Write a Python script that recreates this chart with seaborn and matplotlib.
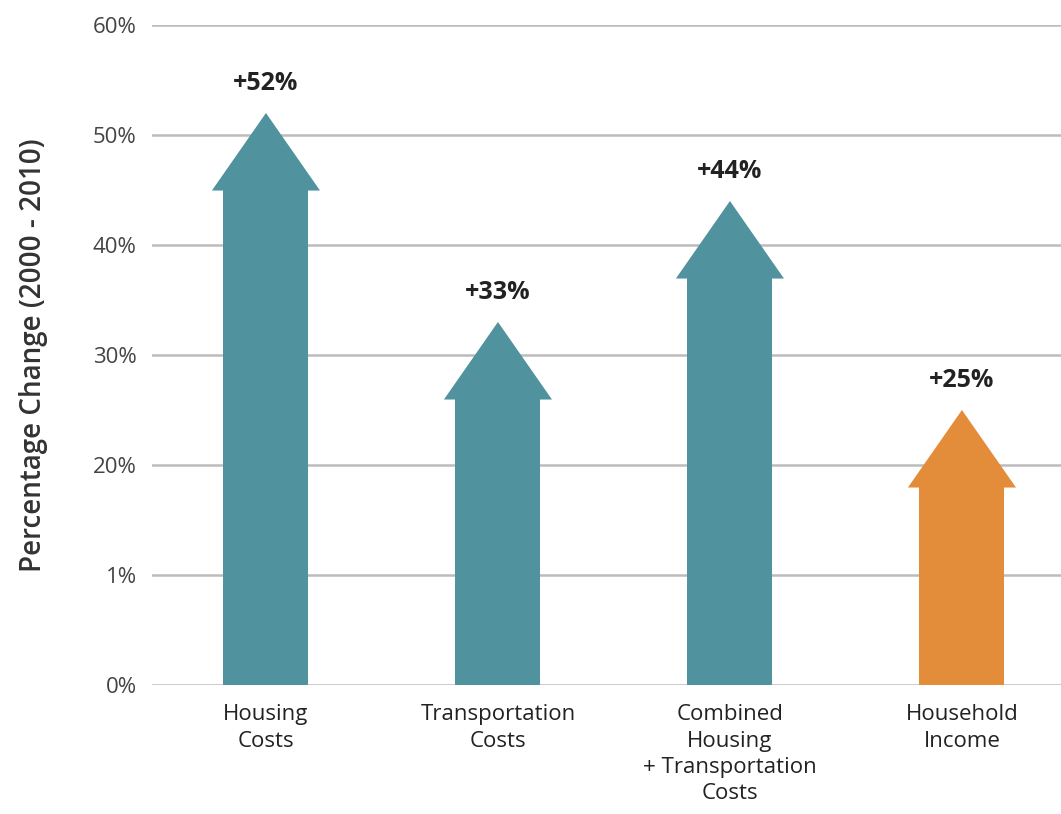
import matplotlib
matplotlib.use("Agg")
import matplotlib.pyplot as plt
from matplotlib.patches import Polygon
import seaborn as sns
import pandas as pd

categories = ["Housing\nCosts", "Transportation\nCosts",
              "Combined\nHousing\n+ Transportation\nCosts", "Household\nIncome"]
values = [52, 33, 44, 25]
value_labels = ["+52%", "+33%", "+44%", "+25%"]
colors = ["#50939f", "#50939f", "#50939f", "#e38c3a"]
tick_values = [0, 10, 20, 30, 40, 50, 60]
tick_labels = ["0%", "1%", "20%", "30%", "40%", "50%", "60%"]
y_label = "Percentage Change (2000 - 2010)"

sns.set_theme(style="white")
plt.rcParams["font.family"] = ["Open Sans", "DejaVu Sans"]

head_len = 7.0
shaft_w = 0.366
head_w = 0.466

df = pd.DataFrame({"category": categories,
                   "shaft": [v - head_len for v in values]})

fig = plt.figure(figsize=(10.61, 8.14), dpi=100)
ax = fig.add_axes([0.1433, 0.1585, 0.8567, 0.8108])

for t in tick_values:
    ax.axhline(t, color="#bcbcbc", lw=1.8, zorder=0)

sns.barplot(data=df, x="category", y="shaft", hue="category",
            palette=colors, width=shaft_w, legend=False, ax=ax,
            saturation=1, linewidth=0, edgecolor="none", zorder=2)

# arrow heads sit on top of each shaft, tip at the value
for i, (v, c, lab) in enumerate(zip(values, colors, value_labels)):
    base = v - head_len
    head = Polygon([(i - head_w / 2, base - 0.05), (i + head_w / 2, base - 0.05), (i, v)],
                   closed=True, facecolor=c, edgecolor="none", zorder=2)
    ax.add_patch(head)
    ax.text(i, v + 1.5, lab, ha="center", va="bottom", fontsize=18,
            fontweight="bold", color="#222222")

ax.set_ylim(0, 60)
ax.set_xlim(-0.491, 3.427)
ax.set_yticks(tick_values)
ax.set_yticklabels(tick_labels, fontsize=16, color="#444444")
ax.tick_params(axis="y", length=0, pad=11)
ax.tick_params(axis="x", length=0, pad=14, labelsize=16, labelcolor="#222222")
for lab in ax.get_xticklabels():
    lab.set_linespacing(1.32)
ax.set_xlabel("")
ax.set_ylabel(y_label, fontsize=20, color="#333333", labelpad=32, fontweight="semibold")
for s in ax.spines.values():
    s.set_visible(False)

fig.savefig("out.png", dpi=100)
